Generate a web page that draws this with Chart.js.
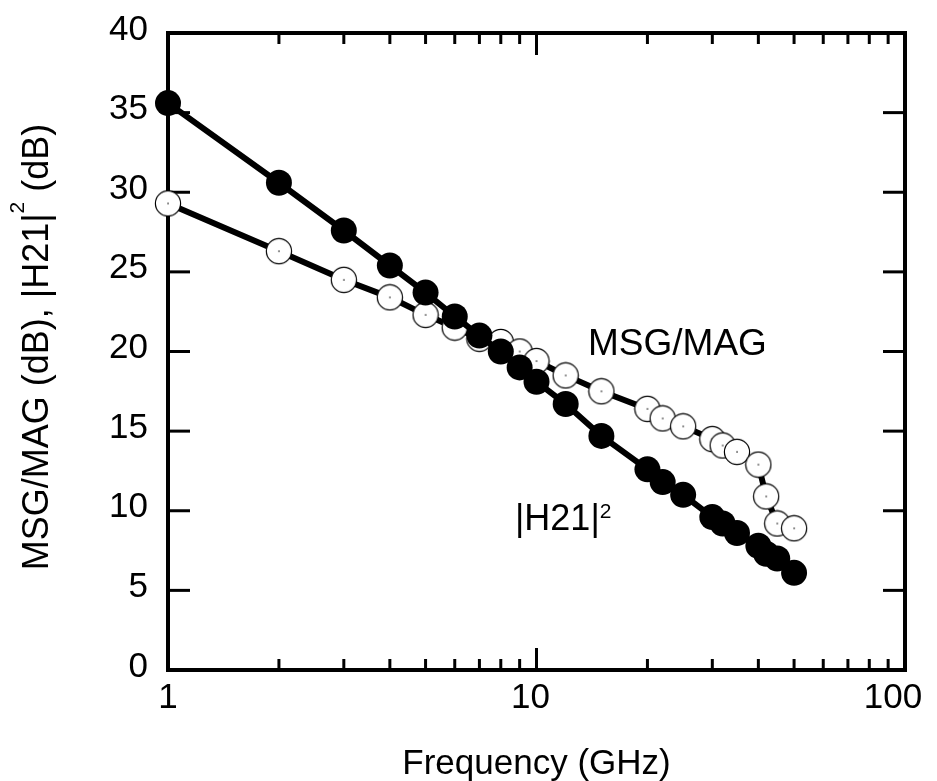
<!DOCTYPE html>
<html>
<head>
<meta charset="utf-8">
<script src="https://cdn.jsdelivr.net/npm/chart.js@4.4.1/dist/chart.umd.min.js"></script>
<style>
  html, body { margin: 0; padding: 0; background: #fff; }
  #wrap { width: 937px; height: 781px; }
</style>
</head>
<body>
<div id="wrap"><canvas id="gainChart" width="937" height="781"></canvas></div>
<script>
// |H21|^2 (filled circles)
const freqH21 = [1, 2, 3, 4, 5, 6, 7, 8, 9, 10, 12, 15, 20, 22, 25, 30, 32, 35, 40, 42, 45, 50];
const h21 = [35.6, 30.6, 27.6, 25.4, 23.7, 22.2, 21.0, 20.0, 19.0, 18.1, 16.7, 14.7, 12.6, 11.8, 11.0, 9.6, 9.2, 8.6, 7.8, 7.3, 7.0, 6.1];
// MSG/MAG (open circles)
const freqMSG = [1, 2, 3, 4, 5, 6, 7, 8, 9, 10, 12, 15, 20, 22, 25, 30, 32, 35, 40, 42, 45, 50];
const msg = [29.3, 26.3, 24.5, 23.4, 22.3, 21.5, 20.8, 20.6, 20.0, 19.4, 18.5, 17.5, 16.4, 15.8, 15.3, 14.5, 14.1, 13.7, 12.9, 10.9, 9.2, 8.9];

const xLabels = [1, 10, 100];
const xMinor = [2, 3, 4, 5, 6, 7, 8, 9, 20, 30, 40, 50, 60, 70, 80, 90];
const yTicks = [0, 5, 10, 15, 20, 25, 30, 35, 40];

const FONT = '"Liberation Sans", Arial, Helvetica, sans-serif';

// open circle marker with a tiny centre dot
const ring = document.createElement('canvas');
ring.width = 28; ring.height = 28;
const rc = ring.getContext('2d');
rc.beginPath();
rc.arc(14, 14, 12.6, 0, Math.PI * 2);
rc.fillStyle = '#fff';
rc.fill();
rc.lineWidth = 1.2;
rc.strokeStyle = '#000';
rc.stroke();
rc.fillStyle = '#000';
rc.fillRect(13.4, 13.4, 1.3, 1.3);

function rich(ctx, parts, x, y, size, align, angle) {
  ctx.save();
  ctx.translate(x, y);
  if (angle) ctx.rotate(angle);
  ctx.textAlign = 'left';
  ctx.textBaseline = 'alphabetic';
  ctx.fillStyle = '#000';
  let w = 0;
  for (const p of parts) {
    ctx.font = (p.size || size) + 'px ' + FONT;
    w += ctx.measureText(p.t).width;
  }
  let cx = align === 'center' ? -w / 2 : align === 'right' ? -w : 0;
  for (const p of parts) {
    ctx.font = (p.size || size) + 'px ' + FONT;
    ctx.fillText(p.t, cx, -(p.raise || 0));
    cx += ctx.measureText(p.t).width;
  }
  ctx.restore();
}

const frame = {
  id: 'frame',
  beforeDatasetsDraw(chart) {
    const { ctx, chartArea: a, scales: { x, y } } = chart;
    const seg = (x1, y1, x2, y2) => { ctx.beginPath(); ctx.moveTo(x1, y1); ctx.lineTo(x2, y2); ctx.stroke(); };
    ctx.save();
    ctx.strokeStyle = '#000';
    ctx.lineWidth = 3;
    xMinor.forEach(v => {
      const px = x.getPixelForValue(v);
      seg(px, a.bottom, px, a.bottom - 11);
      seg(px, a.top, px, a.top + 11);
    });
    xLabels.forEach(v => {
      const px = x.getPixelForValue(v);
      seg(px, a.bottom, px, a.bottom - 22);
      seg(px, a.top, px, a.top + 22);
    });
    yTicks.forEach(v => {
      const py = y.getPixelForValue(v);
      seg(a.left, py, a.left + 22, py);
      seg(a.right, py, a.right - 22, py);
    });
    ctx.lineWidth = 4;
    ctx.strokeRect(a.left, a.top, a.right - a.left, a.bottom - a.top);
    ctx.restore();
  },
  afterDraw(chart) {
    const { ctx, chartArea: a, scales: { x, y } } = chart;
    yTicks.forEach(v => {
      rich(ctx, [{ t: String(v) }], a.left - 20, y.getPixelForValue(v) + 6.5, 35, 'right');
    });
    xLabels.forEach(v => {
      const s = String(v);
      rich(ctx, [{ t: s }], x.getPixelForValue(v) - (s.length - 1) * 6, a.bottom + 38, 35, 'center');
    });
    rich(ctx, [{ t: 'Frequency (GHz)' }], (a.left + a.right) / 2, 774, 35, 'center');
    rich(ctx, [{ t: 'MSG/MAG (dB), |H21|' }, { t: '2', size: 21, raise: 24 }, { t: ' (dB)' }],
      48, 347, 36, 'center', -Math.PI / 2);
    rich(ctx, [{ t: 'MSG/MAG' }], 588, 355, 37, 'left');
    rich(ctx, [{ t: '|H21|' }, { t: '2', size: 21, raise: 12 }], 515, 530, 36, 'left');
  }
};

new Chart(document.getElementById('gainChart'), {
  type: 'line',
  data: {
    datasets: [
      {
        label: '|H21|^2',
        data: freqH21.map((f, i) => ({ x: f, y: h21[i] })),
        borderColor: '#000',
        borderWidth: 6,
        backgroundColor: '#000',
        pointRadius: 13,
        pointBorderWidth: 0,
        pointBackgroundColor: '#000',
        tension: 0,
        clip: false
      },
      {
        label: 'MSG/MAG',
        data: freqMSG.map((f, i) => ({ x: f, y: msg[i] })),
        borderColor: '#000',
        borderWidth: 6,
        pointStyle: ring,
        tension: 0,
        clip: false
      }
    ]
  },
  options: {
    responsive: false,
    animation: false,
    events: [],
    layout: { padding: { left: 168, right: 32, top: 33, bottom: 111 } },
    plugins: { legend: { display: false }, tooltip: { enabled: false } },
    scales: {
      x: { type: 'logarithmic', min: 1, max: 100, display: false },
      y: { type: 'linear', min: 0, max: 40, display: false }
    }
  },
  plugins: [frame]
});
</script>
</body>
</html>
